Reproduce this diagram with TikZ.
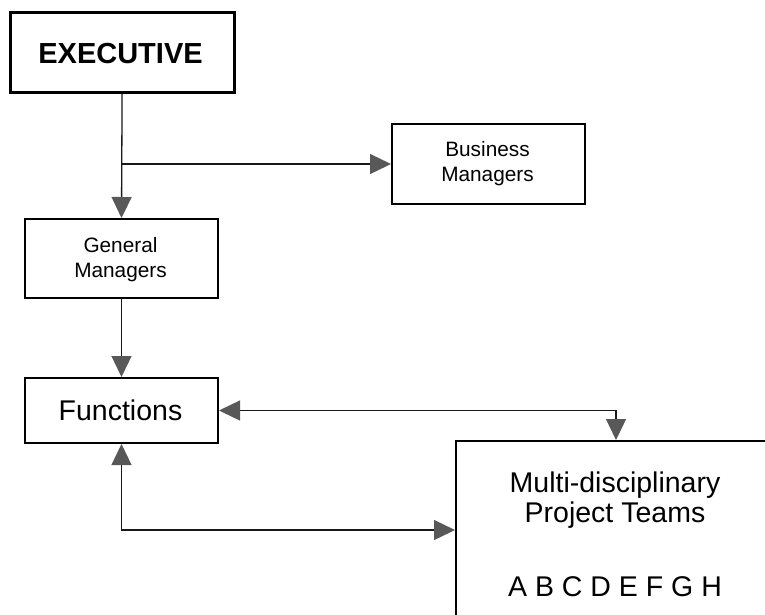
\documentclass[tikz,border=0pt]{standalone}
\usepackage{fontspec}
\setmainfont{Liberation Sans}
\usetikzlibrary{arrows.meta}
\definecolor{tipgray}{RGB}{88,88,88}
\definecolor{linegray}{RGB}{25,25,25}
\begin{document}
\begin{tikzpicture}[x=1pt,y=-1pt,
  box/.style={draw=black, line width=2pt, rectangle, inner sep=0pt, anchor=north west},
  bigbox/.style={box, line width=3.2pt},
  smalltext/.style={anchor=base, inner sep=0pt, font=\fontsize{20.8}{25}\selectfont},
  bigtext/.style={anchor=base, inner sep=0pt, font=\fontsize{28.5}{30}\selectfont},
  tip/.style={Triangle[length=21pt,width=20pt,color=tipgray]},
  conn/.style={draw=linegray, line width=1.3pt, -{Triangle[length=21pt,width=20pt,color=tipgray]}},
  dconn/.style={draw=linegray, line width=1.3pt, {Triangle[length=21pt,width=20pt,color=tipgray]}-{Triangle[length=21pt,width=20pt,color=tipgray]}},
  ]
\useasboundingbox (0,0) rectangle (765,614);

% boxes
\node[bigbox, minimum width=224pt, minimum height=80pt] (exec) at (8.5,10.5) {};
\node[box, minimum width=193pt, minimum height=80pt] (bm) at (391,123) {};
\node[box, minimum width=193pt, minimum height=79pt] (gm) at (24,218) {};
\node[box, minimum width=193pt, minimum height=65pt] (fn) at (24,377) {};
\node[box, minimum width=320pt, minimum height=178pt] (mpt) at (455,440) {};

% box texts
\node[bigtext, font=\bfseries\fontsize{29}{30}\selectfont] (execT) at (120.5,63) {EXECUTIVE};
\node[smalltext] (bmT1) at (487.5,156) {Business};
\node[smalltext] (bmT2) at (487.5,181) {Managers};
\node[smalltext] (gmT1) at (120.5,252) {General};
\node[smalltext] (gmT2) at (120.5,277) {Managers};
\node[bigtext] (fnT) at (120.5,420) {Functions};
\node[bigtext] (mptT1) at (615,492) {Multi-disciplinary};
\node[bigtext] (mptT2) at (615,522) {Project Teams};
\node[bigtext] (mptT3) at (615,596) {A B C D E F G H};

% connectors
\draw[conn] (exec.south) -- (gm.north);
\draw[conn] (exec.south |- bm.west) -- (bm.west);
\draw[conn] (gm.south) -- (fn.north);
\draw[dconn] (fn.east) -| (mpt.north);
\draw[dconn] (fn.south) |- (mpt.west);
\end{tikzpicture}
\end{document}
